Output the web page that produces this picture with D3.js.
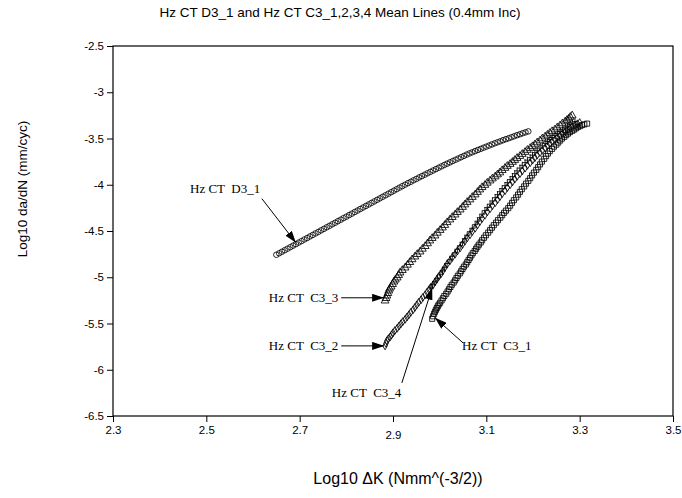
<!DOCTYPE html>
<html>
<head>
<meta charset="utf-8">
<script src="https://cdn.jsdelivr.net/npm/d3@7"></script>
<style>
	body { margin: 0; background: #fff; }
	text { font-family: "Liberation Sans", Arial, sans-serif; fill: #000; }
	.note { font-family: "Liberation Serif", "Times New Roman", serif; font-size: 13px; white-space: pre; }
	.axis path, .axis line { stroke: #000; }
	.mk { fill: none; stroke: #000; stroke-width: 0.85; }
</style>
</head>
<body>
<svg id="chart" width="682" height="498"></svg>
<script>

/**************************************************
 * 	DATA
 **************************************************/

var xTicks = [2.3, 2.5, 2.7, 2.9, 3.1, 3.3, 3.5],
	yTicks = [-2.5, -3, -3.5, -4, -4.5, -5, -5.5, -6, -6.5];

// [log10 dK, log10 da/dN]
var d3_1 = [[2.650,-4.757],[2.656,-4.741],[2.662,-4.724],[2.668,-4.708],[2.674,-4.691],[2.680,-4.675],[2.686,-4.658],[2.692,-4.642],[2.698,-4.625],[2.704,-4.609],[2.710,-4.592],[2.716,-4.576],[2.722,-4.559],[2.728,-4.543],[2.734,-4.526],[2.740,-4.510],[2.746,-4.493],[2.752,-4.477],[2.758,-4.460],[2.764,-4.444],[2.770,-4.427],[2.776,-4.411],[2.782,-4.394],[2.788,-4.378],[2.794,-4.361],[2.800,-4.345],[2.806,-4.328],[2.812,-4.312],[2.818,-4.295],[2.824,-4.279],[2.830,-4.262],[2.836,-4.246],[2.842,-4.229],[2.848,-4.213],[2.854,-4.196],[2.860,-4.180],[2.866,-4.163],[2.872,-4.147],[2.878,-4.130],[2.884,-4.114],[2.890,-4.097],[2.896,-4.081],[2.902,-4.064],[2.908,-4.048],[2.914,-4.031],[2.920,-4.015],[2.926,-3.999],[2.932,-3.983],[2.938,-3.968],[2.944,-3.952],[2.950,-3.937],[2.956,-3.921],[2.962,-3.906],[2.968,-3.891],[2.974,-3.876],[2.980,-3.861],[2.986,-3.846],[2.992,-3.831],[2.998,-3.816],[3.004,-3.801],[3.010,-3.786],[3.016,-3.772],[3.022,-3.758],[3.028,-3.744],[3.034,-3.730],[3.040,-3.716],[3.046,-3.702],[3.052,-3.688],[3.058,-3.674],[3.064,-3.661],[3.070,-3.649],[3.076,-3.636],[3.082,-3.624],[3.088,-3.612],[3.094,-3.600],[3.100,-3.588],[3.106,-3.576],[3.112,-3.564],[3.118,-3.552],[3.124,-3.541],[3.130,-3.530],[3.136,-3.518],[3.142,-3.507],[3.148,-3.497],[3.154,-3.486],[3.160,-3.475],[3.166,-3.464],[3.172,-3.454],[3.178,-3.443],[3.184,-3.433],[3.190,-3.423]];

var c3_3 = [[2.883,-5.254],[2.885,-5.227],[2.887,-5.200],[2.889,-5.173],[2.891,-5.146],[2.893,-5.124],[2.896,-5.103],[2.899,-5.076],[2.902,-5.049],[2.905,-5.027],[2.909,-5.005],[2.912,-4.978],[2.915,-4.951],[2.920,-4.924],[2.926,-4.897],[2.931,-4.867],[2.936,-4.838],[2.941,-4.808],[2.947,-4.778],[2.952,-4.751],[2.958,-4.724],[2.963,-4.694],[2.969,-4.665],[2.974,-4.635],[2.979,-4.605],[2.984,-4.578],[2.990,-4.551],[2.995,-4.521],[3.001,-4.491],[3.006,-4.464],[3.011,-4.437],[3.016,-4.407],[3.022,-4.378],[3.027,-4.351],[3.033,-4.324],[3.038,-4.297],[3.044,-4.270],[3.049,-4.242],[3.054,-4.215],[3.059,-4.188],[3.065,-4.161],[3.070,-4.134],[3.076,-4.107],[3.081,-4.080],[3.086,-4.053],[3.091,-4.028],[3.097,-4.004],[3.102,-3.980],[3.108,-3.956],[3.113,-3.934],[3.119,-3.912],[3.124,-3.890],[3.129,-3.869],[3.134,-3.844],[3.140,-3.820],[3.145,-3.798],[3.151,-3.777],[3.156,-3.755],[3.161,-3.734],[3.166,-3.712],[3.172,-3.691],[3.177,-3.669],[3.183,-3.647],[3.188,-3.625],[3.194,-3.604],[3.199,-3.585],[3.204,-3.566],[3.209,-3.544],[3.215,-3.523],[3.220,-3.501],[3.226,-3.480],[3.231,-3.461],[3.236,-3.442],[3.241,-3.423],[3.247,-3.404],[3.252,-3.382],[3.258,-3.360],[3.263,-3.338],[3.269,-3.317],[3.273,-3.301],[3.277,-3.285],[3.280,-3.268],[3.284,-3.252]];

var c3_2 = [[2.883,-5.742],[2.885,-5.714],[2.887,-5.687],[2.890,-5.665],[2.894,-5.644],[2.897,-5.622],[2.900,-5.601],[2.904,-5.576],[2.909,-5.552],[2.913,-5.527],[2.917,-5.503],[2.921,-5.479],[2.926,-5.455],[2.930,-5.430],[2.934,-5.406],[2.938,-5.379],[2.943,-5.352],[2.947,-5.325],[2.951,-5.298],[2.955,-5.271],[2.960,-5.244],[2.964,-5.217],[2.969,-5.190],[2.973,-5.162],[2.977,-5.135],[2.981,-5.108],[2.986,-5.081],[2.990,-5.051],[2.994,-5.022],[2.998,-4.992],[3.003,-4.962],[3.007,-4.929],[3.011,-4.897],[3.016,-4.859],[3.022,-4.822],[3.027,-4.786],[3.033,-4.751],[3.038,-4.716],[3.044,-4.681],[3.049,-4.645],[3.054,-4.610],[3.059,-4.575],[3.065,-4.540],[3.070,-4.505],[3.076,-4.470],[3.081,-4.434],[3.086,-4.399],[3.091,-4.364],[3.097,-4.329],[3.102,-4.294],[3.108,-4.259],[3.113,-4.226],[3.119,-4.194],[3.124,-4.161],[3.129,-4.129],[3.134,-4.096],[3.140,-4.064],[3.145,-4.031],[3.151,-3.999],[3.156,-3.969],[3.161,-3.939],[3.166,-3.909],[3.172,-3.880],[3.177,-3.850],[3.183,-3.820],[3.188,-3.790],[3.194,-3.761],[3.199,-3.734],[3.204,-3.707],[3.209,-3.680],[3.215,-3.653],[3.220,-3.628],[3.226,-3.604],[3.231,-3.579],[3.236,-3.555],[3.241,-3.533],[3.247,-3.512],[3.252,-3.490],[3.258,-3.469],[3.263,-3.447],[3.269,-3.425],[3.274,-3.406],[3.279,-3.387],[3.284,-3.371],[3.290,-3.355],[3.295,-3.341],[3.300,-3.328]];

var c3_4 = [[2.981,-5.114],[2.985,-5.081],[2.990,-5.049],[2.995,-5.011],[3.001,-4.973],[3.006,-4.932],[3.011,-4.892],[3.016,-4.851],[3.022,-4.811],[3.027,-4.773],[3.033,-4.735],[3.038,-4.697],[3.044,-4.659],[3.049,-4.621],[3.054,-4.583],[3.059,-4.545],[3.065,-4.508],[3.070,-4.470],[3.076,-4.432],[3.081,-4.394],[3.086,-4.356],[3.091,-4.318],[3.097,-4.280],[3.102,-4.245],[3.108,-4.210],[3.113,-4.175],[3.119,-4.140],[3.124,-4.107],[3.129,-4.075],[3.134,-4.042],[3.140,-4.010],[3.145,-3.977],[3.151,-3.945],[3.156,-3.912],[3.161,-3.880],[3.166,-3.850],[3.172,-3.820],[3.177,-3.790],[3.183,-3.761],[3.188,-3.734],[3.194,-3.707],[3.199,-3.680],[3.204,-3.653],[3.209,-3.628],[3.215,-3.604],[3.220,-3.579],[3.226,-3.555],[3.231,-3.533],[3.236,-3.512],[3.241,-3.490],[3.247,-3.469],[3.252,-3.447],[3.258,-3.425],[3.263,-3.406],[3.269,-3.387],[3.274,-3.368],[3.279,-3.350],[3.284,-3.333],[3.290,-3.317]];

var c3_1 = [[2.984,-5.449],[2.986,-5.422],[2.988,-5.395],[2.990,-5.373],[2.992,-5.352],[2.994,-5.333],[2.996,-5.314],[2.998,-5.295],[3.001,-5.276],[3.004,-5.251],[3.007,-5.227],[3.010,-5.203],[3.014,-5.179],[3.017,-5.154],[3.020,-5.130],[3.023,-5.105],[3.026,-5.081],[3.030,-5.057],[3.033,-5.033],[3.036,-5.008],[3.039,-4.984],[3.043,-4.959],[3.046,-4.935],[3.049,-4.910],[3.052,-4.886],[3.056,-4.862],[3.059,-4.838],[3.062,-4.813],[3.065,-4.789],[3.068,-4.764],[3.071,-4.740],[3.075,-4.716],[3.078,-4.692],[3.081,-4.670],[3.084,-4.648],[3.088,-4.624],[3.091,-4.600],[3.095,-4.573],[3.099,-4.546],[3.104,-4.518],[3.108,-4.491],[3.112,-4.464],[3.116,-4.437],[3.121,-4.410],[3.125,-4.383],[3.130,-4.356],[3.134,-4.329],[3.138,-4.304],[3.142,-4.280],[3.147,-4.253],[3.151,-4.226],[3.155,-4.196],[3.159,-4.167],[3.164,-4.137],[3.168,-4.107],[3.172,-4.077],[3.176,-4.048],[3.181,-4.018],[3.185,-3.988],[3.190,-3.958],[3.194,-3.929],[3.198,-3.899],[3.202,-3.869],[3.207,-3.839],[3.211,-3.810],[3.215,-3.780],[3.219,-3.750],[3.224,-3.720],[3.228,-3.691],[3.232,-3.663],[3.236,-3.636],[3.241,-3.612],[3.245,-3.588],[3.250,-3.566],[3.254,-3.544],[3.258,-3.522],[3.262,-3.501],[3.267,-3.482],[3.271,-3.463],[3.275,-3.447],[3.279,-3.431],[3.284,-3.417],[3.288,-3.404],[3.292,-3.390],[3.296,-3.377],[3.301,-3.366],[3.305,-3.355],[3.310,-3.347],[3.316,-3.339]];

// labels: text anchor, arrow start, arrow tip (data units)
var notes = [
	{ t: "Hz CT  D3_1", tx: 2.465, ty: -4.042, x1: 2.619, y1: -4.150, x2: 2.692, y2: -4.627 },
	{ t: "Hz CT  C3_3", tx: 2.634, ty: -5.222, x1: 2.789, y1: -5.222, x2: 2.881, y2: -5.222 },
	{ t: "Hz CT  C3_2", tx: 2.634, ty: -5.742, x1: 2.789, y1: -5.742, x2: 2.881, y2: -5.742 },
	{ t: "Hz CT  C3_4", tx: 2.769, ty: -6.250, x1: 2.919, y1: -6.142, x2: 2.984, y2: -5.114 },
	{ t: "Hz CT  C3_1", tx: 3.048, ty: -5.742, x1: 3.050, y1: -5.709, x2: 2.990, y2: -5.439 }
];


/**************************************************
 * 	INIT CHART
 **************************************************/

var margin = { top: 46, right: 9, bottom: 82, left: 113 },
	width = 682 - margin.left - margin.right,
	height = 498 - margin.top - margin.bottom;

var svg = d3.select('#chart');

var defs = svg.append('defs');
defs.append('marker')
	.attr('id', 'head')
	.attr('viewBox', '0 0 12 8')
	.attr('refX', 12).attr('refY', 4)
	.attr('markerWidth', 12).attr('markerHeight', 8)
	.attr('markerUnits', 'userSpaceOnUse')
	.attr('orient', 'auto')
	.append('path').attr('d', 'M0,0L12,4L0,8Z').attr('fill', '#000');

var g = svg.append('g').attr('transform', 'translate(' + margin.left + ',' + margin.top + ')');

var xScale = d3.scaleLinear().domain([2.3, 3.5]).range([0, width]);
var yScale = d3.scaleLinear().domain([-6.5, -2.5]).range([height, 0]);


//************ AXES ************

var xAxis = g.append('g').attr('class', 'axis')
	.attr('transform', 'translate(0,' + height + ')')
	.call(d3.axisBottom(xScale).tickValues(xTicks).tickSize(6).tickPadding(4).tickFormat(d3.format('.1f')));
xAxis.select('.domain').remove();
// the 2.9 label sits a little lower in the original
xAxis.selectAll('text').style('font-size', '11.5px')
	.attr('y', function (d) { return d === 2.9 ? 15 : 10; });

var yAxis = g.append('g').attr('class', 'axis')
	.call(d3.axisLeft(yScale).tickValues(yTicks).tickSize(6).tickPadding(3).tickFormat(function (d) { return d; }));
yAxis.select('.domain').remove();
yAxis.selectAll('text').style('font-size', '11.5px');

// frame
g.append('rect')
	.attr('width', width).attr('height', height)
	.attr('fill', 'none').attr('stroke', '#000').attr('stroke-width', 1.2);


//************ SERIES ************

function drawSeries(data, sym) {
	g.append('g').selectAll('path')
		.data(data).enter()
		.append('path')
		.attr('class', 'mk')
		.attr('d', sym)
		.attr('transform', function (d) { return 'translate(' + xScale(d[0]) + ',' + yScale(d[1]) + ')'; });
}

drawSeries(d3_1, d3.symbol().type(d3.symbolCircle).size(24)());
drawSeries(c3_3, d3.symbol().type(d3.symbolTriangle).size(26)());
drawSeries(c3_2, d3.symbol().type(d3.symbolDiamond).size(18)());
drawSeries(c3_1, d3.symbol().type(d3.symbolSquare).size(26)());
drawSeries(c3_4, 'M-3,0H3M0,-3.5V3.5');


//************ NOTES ************

var nG = g.append('g');
nG.selectAll('line').data(notes).enter()
	.append('line')
	.attr('x1', function (d) { return xScale(d.x1); })
	.attr('y1', function (d) { return yScale(d.y1); })
	.attr('x2', function (d) { return xScale(d.x2); })
	.attr('y2', function (d) { return yScale(d.y2); })
	.attr('stroke', '#000').attr('stroke-width', 1)
	.attr('marker-end', 'url(#head)');
nG.selectAll('text').data(notes).enter()
	.append('text')
	.attr('class', 'note')
	.attr('x', function (d) { return xScale(d.tx); })
	.attr('y', function (d) { return yScale(d.ty); })
	.attr('dy', '0.35em')
	.text(function (d) { return d.t; });


//************ TITLES ************

svg.append('text')
	.attr('x', 340).attr('y', 17)
	.attr('text-anchor', 'middle').style('font-size', '13.5px')
	.text('Hz CT D3_1 and Hz CT C3_1,2,3,4 Mean Lines (0.4mm Inc)');

svg.append('text')
	.attr('x', 398).attr('y', 484)
	.attr('text-anchor', 'middle').style('font-size', '16px')
	.text('Log10 \u0394K (Nmm^(-3/2))');

svg.append('text')
	.attr('transform', 'translate(27,189) rotate(-90)')
	.attr('text-anchor', 'middle').style('font-size', '13.5px')
	.text('Log10 da/dN (mm/cyc)');

</script>
</body>
</html>
